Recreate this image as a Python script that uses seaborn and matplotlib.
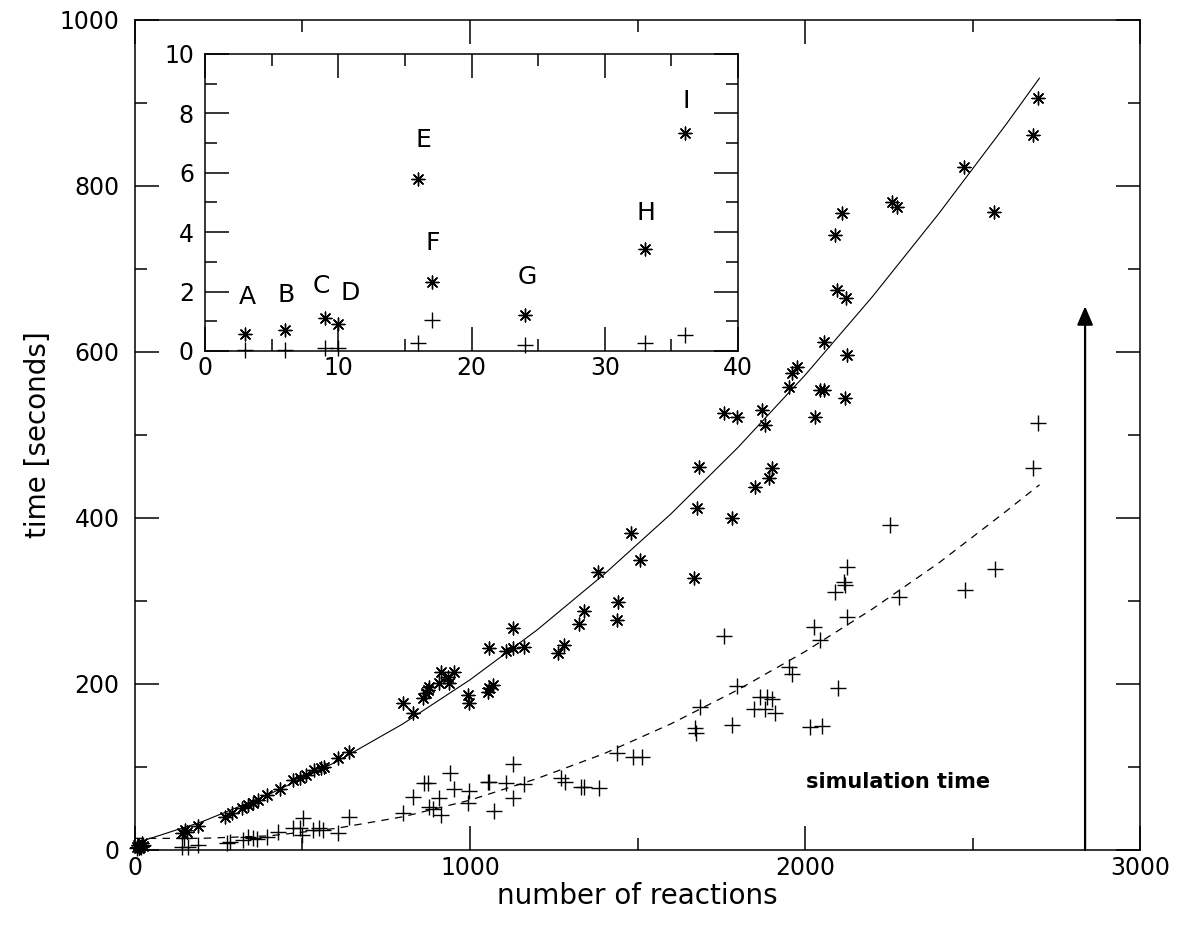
import numpy as np
import pandas as pd
import matplotlib
matplotlib.use("Agg")
import matplotlib.pyplot as plt
from matplotlib.ticker import MultipleLocator
import seaborn as sns

# ---------------- data ----------------
star_x = [5, 10, 15, 20, 25, 12,
          141, 150, 156, 189, 269, 290, 320, 338, 353, 368, 395, 434, 473, 494, 509, 533, 554, 563, 605, 638,
          799, 829, 859, 868, 874, 877, 907, 913, 934, 937, 952, 994, 997, 1054, 1057, 1069, 1057, 1108, 1129,
          1129, 1162, 1263, 1281, 1326, 1341, 1383, 1440, 1443, 1482, 1506, 1668, 1677, 1683, 1757, 1781, 1796,
          1850, 1871, 1880, 1892, 1901, 1952, 1960, 1975, 2030, 2045, 2057, 2057, 2090, 2096, 2111, 2120, 2123,
          2126, 2260, 2275, 2476, 2563, 2680, 2695]
star_y = [3, 6, 4, 8, 5, 2,
          20, 24, 22, 29, 40, 44, 50, 54, 56, 60, 66, 74, 84, 87, 90, 96, 99, 100, 111, 118,
          177, 165, 183, 189, 193, 196, 201, 214, 208, 201, 214, 187, 177, 190, 195, 199, 243, 240, 243,
          267, 245, 237, 247, 272, 288, 335, 277, 299, 382, 349, 328, 412, 461, 527, 400, 522,
          437, 530, 512, 448, 460, 558, 575, 582, 522, 554, 612, 554, 741, 675, 767, 545, 665,
          596, 781, 775, 823, 769, 861, 906]

plus_x = [5, 12, 18, 25,
          141, 159, 189, 145, 275, 284, 323, 338, 353, 365, 395, 428, 473, 494, 503, 500, 530, 548, 560, 605, 638,
          799, 829, 862, 874, 877, 889, 907, 913, 940, 952, 994, 997, 1054, 1057, 1072, 1108, 1129, 1129, 1162,
          1272, 1284, 1332, 1341, 1386, 1440, 1488, 1512,
          1671, 1674, 1686, 1757, 1781, 1796, 1847, 1865, 1880, 1886, 1901, 1910, 1952, 1961, 2015, 2027, 2045,
          2051, 2090, 2099, 2117, 2120, 2126, 2126, 2254, 2281, 2479, 2566, 2680, 2695]
plus_y = [2, 4, 3, 6,
          4, 4, 6, 14, 8, 10, 12, 16, 14, 13, 16, 22, 26, 26, 38, 18, 24, 26, 24, 20, 40,
          44, 64, 81, 81, 52, 49, 63, 42, 93, 73, 57, 71, 82, 82, 47, 81, 63, 104, 80,
          87, 82, 76, 76, 75, 117, 112, 112,
          147, 141, 172, 258, 151, 198, 170, 184, 170, 184, 182, 165, 220, 212, 148, 269, 253,
          149, 311, 195, 323, 319, 341, 281, 392, 305, 313, 339, 460, 514]

# fitted curves
fit_x = [0, 200, 400, 600, 800, 1000, 1200, 1400, 1600, 1800, 2000, 2200, 2400, 2600, 2700]
star_fit_y = [8, 34, 67, 106, 152, 205, 265, 332, 405, 485, 572, 666, 767, 874, 930]
plus_fit_y = [14, 14, 17, 26, 40, 60, 86, 116, 152, 193, 239, 290, 346, 408, 440]

# inset
inset_x = [3, 6, 9, 10, 16, 17, 24, 33, 36]
inset_star = [0.58, 0.70, 1.12, 0.90, 5.79, 2.33, 1.20, 3.42, 7.35]
inset_plus = [0.02, 0.03, 0.11, 0.10, 0.27, 1.03, 0.19, 0.27, 0.53]
inset_labels = ["A", "B", "C", "D", "E", "F", "G", "H", "I"]
label_x = [3.15, 6.1, 8.7, 10.9, 16.4, 17.1, 24.2, 33.1, 36.1]
label_y = [1.83, 1.88, 2.2, 1.95, 7.1, 3.65, 2.5, 4.66, 8.4]

arrow_x = 2836
arrow_top = 655
note_text = "simulation time"
note_pos = (2278, 82)

# ---------------- style ----------------
sns.set_theme(style="ticks")
plt.rcParams["font.family"] = ["DejaVu Sans"]
plt.rcParams["axes.linewidth"] = 1.1
plt.rcParams["xtick.direction"] = "in"
plt.rcParams["ytick.direction"] = "in"
plt.rcParams["axes.labelcolor"] = "black"
plt.rcParams["text.color"] = "black"

STAR = (8, 2, 0)
fig = plt.figure(figsize=(11.81, 9.27), dpi=100)
ax = fig.add_axes([0.1143, 0.0831, 0.8510, 0.8954])

df_s = pd.DataFrame({"x": star_x, "y": star_y})
df_p = pd.DataFrame({"x": plus_x, "y": plus_y})
df_f = pd.DataFrame({"x": fit_x, "s": star_fit_y, "p": plus_fit_y})

sns.lineplot(data=df_f, x="x", y="s", ax=ax, color="black", linewidth=0.8,
             estimator=None, sort=False)
sns.lineplot(data=df_f, x="x", y="p", ax=ax, color="black", linewidth=0.9,
             estimator=None, sort=False, dashes=False)
ax.lines[-1].set_dashes((6, 5))
sns.scatterplot(data=df_s, x="x", y="y", ax=ax, marker=STAR, s=85, color="black",
                linewidth=1.0, clip_on=False, zorder=3)
sns.scatterplot(data=df_p, x="x", y="y", ax=ax, marker="+", s=140, color="black",
                linewidth=1.0, clip_on=False, zorder=3)

ax.set_xlim(0, 3000)
ax.set_ylim(0, 1000)
ax.xaxis.set_major_locator(MultipleLocator(1000))
ax.xaxis.set_minor_locator(MultipleLocator(500))
ax.yaxis.set_major_locator(MultipleLocator(200))
ax.yaxis.set_minor_locator(MultipleLocator(100))
ax.tick_params(which="both", top=True, right=True, direction="in", width=1.1,
               labelsize=17, colors="black")
ax.tick_params(which="major", length=17)
ax.tick_params(which="minor", length=8.5)
ax.tick_params(axis="x", pad=4)
ax.tick_params(axis="y", pad=11)
ax.set_xlabel("number of reactions", fontsize=20, labelpad=2, color="black")
ax.set_ylabel("time [seconds]", fontsize=20, labelpad=6, color="black")
for sp in ax.spines.values():
    sp.set_color("black")

ax.annotate("", xy=(arrow_x, arrow_top), xytext=(arrow_x, 0),
            arrowprops=dict(arrowstyle="-|>,head_length=0.7,head_width=0.3",
                            color="black", lw=1.6, mutation_scale=16,
                            shrinkA=0, shrinkB=0))
ax.text(note_pos[0], note_pos[1], note_text, fontsize=15, fontweight="bold",
        ha="center", va="center", color="black")

# ---------------- inset ----------------
ins = fig.add_axes([0.1736, 0.6214, 0.4513, 0.3204])
df_i = pd.DataFrame({"x": inset_x, "s": inset_star, "p": inset_plus})
sns.scatterplot(data=df_i, x="x", y="s", ax=ins, marker=STAR, s=85, color="black",
                linewidth=1.0, clip_on=False)
sns.scatterplot(data=df_i, x="x", y="p", ax=ins, marker="+", s=140, color="black",
                linewidth=1.0, clip_on=False)
for lx, ly, t in zip(label_x, label_y, inset_labels):
    ins.text(lx, ly, t, fontsize=18, ha="center", va="center", color="black")
ins.set_xlim(0, 40)
ins.set_ylim(0, 10)
ins.xaxis.set_major_locator(MultipleLocator(10))
ins.xaxis.set_minor_locator(MultipleLocator(5))
ins.yaxis.set_major_locator(MultipleLocator(2))
ins.yaxis.set_minor_locator(MultipleLocator(1))
ins.tick_params(which="both", top=True, right=True, direction="in", width=1.1,
                labelsize=17, colors="black")
ins.tick_params(which="major", length=17)
ins.tick_params(which="minor", length=8.5)
ins.tick_params(axis="y", pad=8)
ins.set_xlabel("")
ins.set_ylabel("")
for sp in ins.spines.values():
    sp.set_color("black")

fig.savefig("out.png", dpi=100, facecolor="white")
